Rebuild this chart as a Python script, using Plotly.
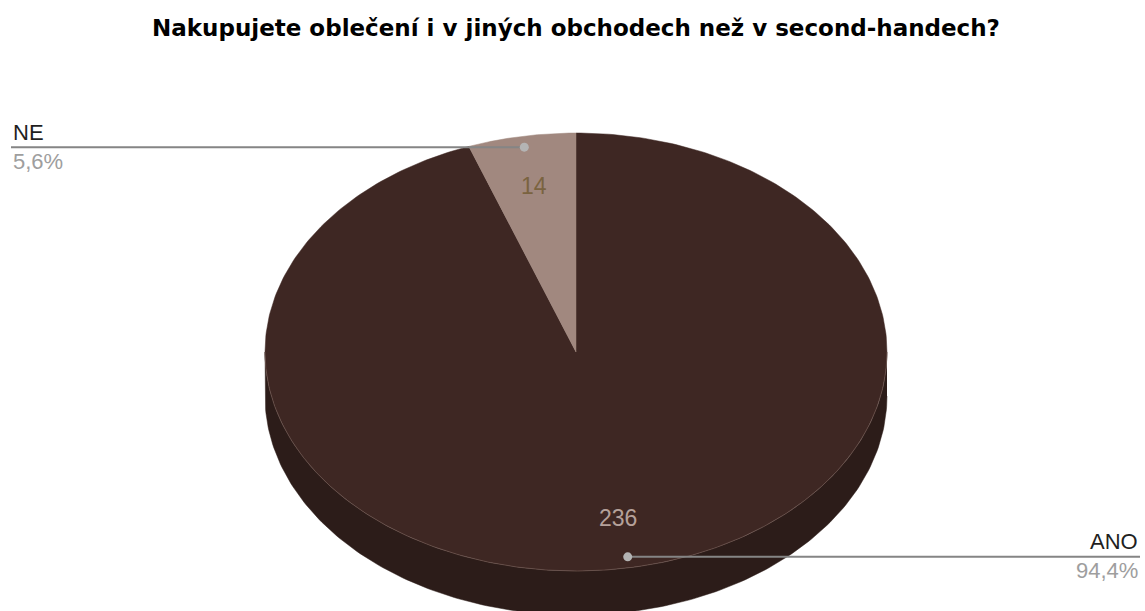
import numpy as np
import plotly.graph_objects as go

# Survey answers
labels = ["ANO", "NE"]
values = [236, 14]
top_colors = ["#3e2723", "#a1887f"]
side_colors = ["#2c1c19", "#74625b"]
value_text_colors = ["#b5a19a", "#7a6340"]
title = "Nakupujete oblečení i v jiných obchodech než v second-handech?"

W, H = 1145, 611
CX, CY = 576, 352          # pie centre (pixels)
RX, RY = 311, 219          # ellipse radii of the tilted top face
DEPTH = 44                 # thickness of the pie
LABEL_F = 0.77             # radial fraction for value labels
DOT_F = 0.95               # radial fraction for leader dots


def pt(theta_deg, f=1.0, dy=0.0):
    t = np.radians(theta_deg)
    return CX + RX * f * np.sin(t), CY - RY * f * np.cos(t) + dy


total = sum(values)
bounds = np.concatenate([[0], np.cumsum(values)]) / total * 360.0

fig = go.Figure()

# Visible side walls (front half of the pie: 90..270 degrees clockwise from top)
for i in range(len(values)):
    a0, a1 = max(bounds[i], 90.0), min(bounds[i + 1], 270.0)
    if a1 <= a0:
        continue
    th = np.linspace(a0, a1, 200)
    xt, yt = pt(th)
    xb, yb = pt(th[::-1], dy=DEPTH)
    fig.add_trace(go.Scatter(
        x=np.concatenate([xt, xb]), y=np.concatenate([yt, yb]),
        fill="toself", fillcolor=side_colors[i], mode="lines",
        line=dict(color=side_colors[i], width=0.5), hoverinfo="skip"))

# Top faces of the slices
for i in range(len(values)):
    th = np.linspace(bounds[i], bounds[i + 1], 400)
    xa, ya = pt(th)
    fig.add_trace(go.Scatter(
        x=np.concatenate([[CX], xa, [CX]]), y=np.concatenate([[CY], ya, [CY]]),
        fill="toself", fillcolor=top_colors[i], mode="lines",
        line=dict(color=top_colors[i], width=0.5), hoverinfo="skip",
        name=labels[i]))

# Faint highlight along the front rim of the top face
th = np.linspace(90, 270, 300)
xr, yr = pt(th)
fig.add_trace(go.Scatter(x=xr, y=yr, mode="lines",
                         line=dict(color="rgba(150,125,118,0.4)", width=1),
                         hoverinfo="skip"))

annotations = []
for i in range(len(values)):
    mid = (bounds[i] + bounds[i + 1]) / 2
    lx, ly = pt(mid, LABEL_F)
    annotations.append(dict(x=lx, y=ly, text=str(values[i]), showarrow=False,
                            font=dict(family="Liberation Sans", size=23,
                                      color=value_text_colors[i])))
    dx, dy_ = pt(mid, DOT_F)
    right = np.sin(np.radians(mid)) > 0
    end_x = W - 5 if right else 11
    fig.add_trace(go.Scatter(x=[dx, end_x], y=[dy_, dy_], mode="lines",
                             line=dict(color="#858585", width=2), hoverinfo="skip"))
    fig.add_trace(go.Scatter(x=[dx], y=[dy_], mode="markers",
                             marker=dict(color="#b4b4b4", size=9), hoverinfo="skip"))
    pct = f"{values[i] / total * 100:.1f}".replace(".", ",") + "%"
    anchor = "right" if right else "left"
    annotations.append(dict(x=end_x, y=dy_ - 15, text=labels[i], showarrow=False,
                            xanchor=anchor, yanchor="middle",
                            font=dict(family="Liberation Sans", size=22, color="#1f1f1f")))
    annotations.append(dict(x=end_x, y=dy_ + 14, text=pct, showarrow=False,
                            xanchor=anchor, yanchor="middle",
                            font=dict(family="Liberation Sans", size=22, color="#9e9e9e")))

annotations.append(dict(x=576, y=28, text=f"<b>{title}</b>", showarrow=False,
                        xanchor="center", yanchor="middle",
                        font=dict(family="DejaVu Sans", size=23, color="#000000")))

fig.update_layout(
    width=W, height=H, margin=dict(l=0, r=0, t=0, b=0),
    paper_bgcolor="white", plot_bgcolor="white", showlegend=False,
    xaxis=dict(range=[0, W], visible=False, fixedrange=True),
    yaxis=dict(range=[H, 0], visible=False, fixedrange=True),
    annotations=annotations,
)

fig.write_html("out.html")
